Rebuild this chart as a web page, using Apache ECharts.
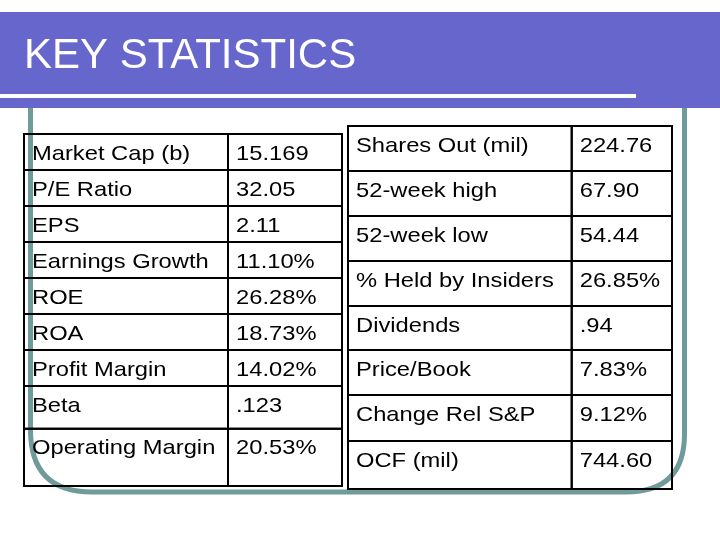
<!DOCTYPE html>
<html>
<head>
<meta charset="utf-8">
<script src="https://cdn.jsdelivr.net/npm/echarts@6/dist/echarts.min.js"></script>
<style>
html,body{margin:0;padding:0;background:#fff;}
#chart{width:720px;height:540px;}
</style>
</head>
<body>
<div id="chart"></div>
<script>
// ---- data ----
var titleText = 'KEY STATISTICS';
var leftLabels = ['Market Cap (b)', 'P/E Ratio', 'EPS', 'Earnings Growth', 'ROE', 'ROA', 'Profit Margin', 'Beta', 'Operating Margin'];
var leftValues = ['15.169', '32.05', '2.11', '11.10%', '26.28%', '18.73%', '14.02%', '.123', '20.53%'];
var rightLabels = ['Shares Out (mil)', '52-week high', '52-week low', '% Held by Insiders', 'Dividends', 'Price/Book', 'Change Rel S&P', 'OCF (mil)'];
var rightValues = ['224.76', '67.90', '54.44', '26.85%', '.94', '7.83%', '9.12%', '744.60'];

// ---- layout (positions / sizes, kept apart from data) ----
var leftLayout = { left: 24, top: 134, width: 318, divider: 204, rowHeights: [36, 36, 36, 36, 36, 36, 36, 42.7, 57.3] };
var rightLayout = { left: 348, top: 126, width: 324, divider: 223.7, rowHeights: [45, 45, 45, 45, 44, 45, 46, 48] };
var FONT = '21px "Liberation Sans", Arial, sans-serif';
var TEXT_SCALE = 1.13;

function sum(a) { return a.reduce(function (s, v) { return s + v; }, 0); }

function makeTableSeries(idx, labels, values, layout) {
  var data = labels.map(function (l, i) { return [i, l, values[i]]; });
  return {
    type: 'custom',
    xAxisIndex: idx,
    yAxisIndex: idx,
    silent: true,
    clip: false,
    data: data,
    renderItem: function (params, api) {
      var i = api.value(0);
      var top = sum(layout.rowHeights.slice(0, i));
      var bottom = top + layout.rowHeights[i];
      var p0 = api.coord([0, top]);
      var pD = api.coord([layout.divider, bottom]);
      var p1 = api.coord([layout.width, bottom]);
      var lineStyle = { fill: 'none', stroke: '#000', lineWidth: 2 };
      var textY = p0[1] + 20;
      return {
        type: 'group',
        children: [
          { type: 'rect', shape: { x: p0[0], y: p0[1], width: pD[0] - p0[0], height: pD[1] - p0[1] }, style: lineStyle },
          { type: 'rect', shape: { x: pD[0], y: p0[1], width: p1[0] - pD[0], height: p1[1] - p0[1] }, style: lineStyle },
          { type: 'text', x: p0[0] + 8, y: textY, scaleX: TEXT_SCALE,
            style: { text: data[i][1], x: 0, y: 0, font: FONT, fill: '#000', align: 'left', verticalAlign: 'middle' } },
          { type: 'text', x: pD[0] + 8, y: textY, scaleX: TEXT_SCALE,
            style: { text: data[i][2], x: 0, y: 0, font: FONT, fill: '#000', align: 'left', verticalAlign: 'middle' } }
        ]
      };
    }
  };
}

function hiddenAxis(idx, max, inverse) {
  return { type: 'value', gridIndex: idx, min: 0, max: max, inverse: !!inverse, show: false };
}

var frameStyle = { fill: 'none', stroke: '#6f9b9b', lineWidth: 5 };
var chart = echarts.init(document.getElementById('chart'), null, { renderer: 'canvas' });
var option = {
  backgroundColor: '#ffffff',
  animation: false,
  grid: [
    { left: leftLayout.left, top: leftLayout.top, width: leftLayout.width, height: sum(leftLayout.rowHeights) },
    { left: rightLayout.left, top: rightLayout.top, width: rightLayout.width, height: sum(rightLayout.rowHeights) }
  ],
  xAxis: [hiddenAxis(0, leftLayout.width), hiddenAxis(1, rightLayout.width)],
  yAxis: [hiddenAxis(0, sum(leftLayout.rowHeights), true), hiddenAxis(1, sum(rightLayout.rowHeights), true)],
  graphic: [
    { type: 'polyline', z: -10, silent: true,
      shape: { points: [[30.5, 108], [30.5, 430]] }, style: frameStyle },
    { type: 'bezierCurve', z: -10, silent: true,
      shape: { x1: 30.5, y1: 430, cpx1: 30.5, cpy1: 492, x2: 92, y2: 492 }, style: frameStyle },
    { type: 'polyline', z: -10, silent: true,
      shape: { points: [[92, 492], [626, 492]] }, style: frameStyle },
    { type: 'bezierCurve', z: -10, silent: true,
      shape: { x1: 626, y1: 492, cpx1: 684.5, cpy1: 492, x2: 684.5, y2: 434 }, style: frameStyle },
    { type: 'polyline', z: -10, silent: true,
      shape: { points: [[684.5, 434], [684.5, 108]] }, style: frameStyle },
    { type: 'rect', z: 10, silent: true, shape: { x: 0, y: 12, width: 720, height: 96 }, style: { fill: '#6666cc' } },
    { type: 'rect', z: 11, silent: true, shape: { x: 0, y: 94, width: 636, height: 4 }, style: { fill: '#ffffff' } },
    { type: 'text', z: 12, silent: true, x: 24, y: 56,
      style: { text: titleText, font: '42px "Liberation Sans", Arial, sans-serif', fill: '#ffffff', verticalAlign: 'middle' } }
  ],
  series: [
    makeTableSeries(0, leftLabels, leftValues, leftLayout),
    makeTableSeries(1, rightLabels, rightValues, rightLayout)
  ]
};
chart.setOption(option);
</script>
</body>
</html>
